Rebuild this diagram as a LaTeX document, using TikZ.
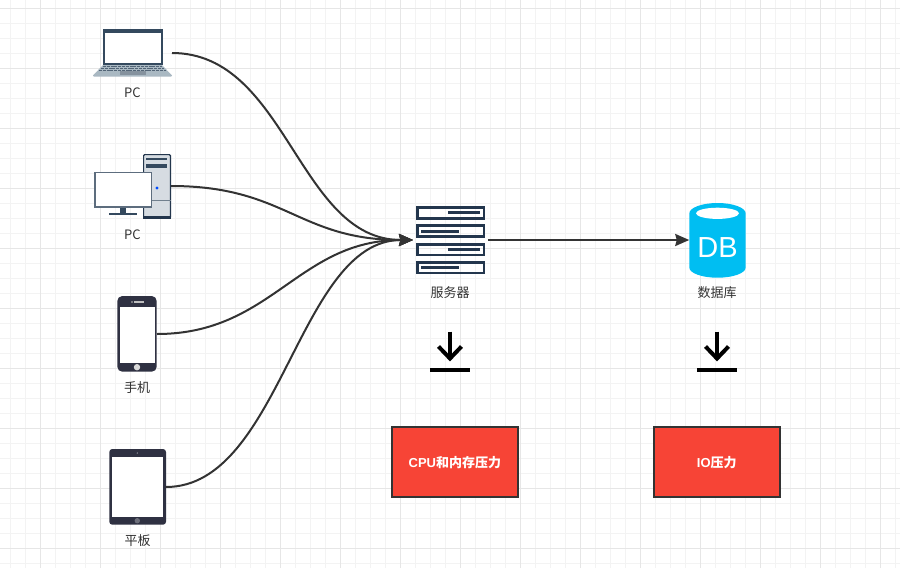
\documentclass[tikz,border=0pt]{standalone}
\usepackage{fontspec}
\usepackage{xcolor}
\usetikzlibrary{arrows.meta}
\setmainfont{Liberation Sans}
\newfontfamily\cjk{Noto Sans CJK SC}
\definecolor{gridminor}{HTML}{F3F3F3}
\definecolor{gridmajor}{HTML}{E6E6E6}
\definecolor{ink}{HTML}{333333}
\definecolor{navy}{HTML}{23364D}
\definecolor{slate}{HTML}{34495E}
\definecolor{steel}{HTML}{A9B8C2}
\definecolor{case}{HTML}{D6DCE2}
\definecolor{mobile}{HTML}{2F3142}
\definecolor{dbblue}{HTML}{00BEF2}
\definecolor{alarm}{HTML}{F74436}
\tikzset{
  device/.style={inner sep=0pt,outer sep=0pt},
  caption/.style={inner sep=0pt,text=ink,font=\fontsize{13}{15}\selectfont\cjk},
  flow/.style={draw=ink,line width=2pt,-{Stealth[length=14pt,width=12pt,inset=1.5pt]}},
  alarmbox/.style={draw=ink,line width=2pt,fill=alarm,text=white,minimum width=126.5pt,minimum height=70.6pt,inner sep=0pt,font=\fontsize{13}{15}\selectfont\bfseries},
  slot/.style={fill=navy,draw=none},
  drop/.style={line width=4pt,draw=black}
}
\begin{document}
\begin{tikzpicture}[x=1pt,y=-1pt]
  \useasboundingbox (0,0) rectangle (900,568);
  \fill[white] (0,0) rectangle (900,568);
  \foreach \gx in {0,...,59} \draw[gridminor,line width=1pt] (10.5+15*\gx,0) -- (10.5+15*\gx,568);
  \foreach \gy in {0,...,37} \draw[gridminor,line width=1pt] (0,8.5+15*\gy) -- (900,8.5+15*\gy);
  \foreach \gx in {0,...,14} \draw[gridmajor,line width=1pt] (40.5+60*\gx,0) -- (40.5+60*\gx,568);
  \foreach \gy in {0,...,9} \draw[gridmajor,line width=1pt] (0,8.5+60*\gy) -- (900,8.5+60*\gy);

  \node[device,minimum width=79pt,minimum height=48pt] (laptop) at (132.5,53) {};
  \node[device,minimum width=77pt,minimum height=64pt] (desktop) at (132.5,186) {};
  \node[device,minimum width=40pt,minimum height=76pt] (phone) at (137,334) {};
  \node[device,minimum width=57pt,minimum height=76pt] (tablet) at (137.5,487) {};
  \node[device,minimum width=75pt,minimum height=68pt] (server) at (450.5,240) {};
  \node[device,minimum width=56.5pt,minimum height=75pt] (database) at (717.5,240) {};

  % laptop
  \path[fill=steel] (103,65) -- (162,65) -- (172,75.5) -- (171,76.7) -- (94,76.7) -- (93,75.5) -- cycle;
  \path[fill=slate] (102.7,29) rectangle (162.7,65);
  \path[fill=white] (104.5,32.5) rectangle (161,63);
  \foreach \ky in {66.5,68.5,70.5} \draw[slate!85,line width=1.5pt,dash pattern=on 3pt off .8pt] (103-\ky+66.5,\ky) -- (162+\ky-66.5,\ky);
  \path[fill=slate!60] (120,71) rectangle (146,75);

  % desktop
  \path[fill=case,draw=navy,line width=1.2pt,rounded corners=1pt] (143.6,154.6) rectangle (170.4,218);
  \path[fill=navy] (143,216) rectangle (171,218.8);
  \path[fill=slate] (146,158) rectangle (167,160);
  \path[fill=slate] (146,164) rectangle (167,168);
  \draw[slate!70,line width=.8pt] (143.5,200.5) -- (170.5,200.5);
  \path[fill=blue!70!cyan] (157,188) circle (1.7);
  \path[fill=slate] (120,207) rectangle (126,212.5);
  \path[fill=slate] (109,212.5) rectangle (137,214.5);
  \path[fill=white,draw=slate!80,line width=1.4pt] (94.9,172.2) rectangle (151.2,207);

  % phone
  \path[fill=mobile,rounded corners=5pt] (117.3,296) rectangle (156.7,371.7);
  \path[fill=white] (119.8,306.7) rectangle (154.6,362.7);
  \path[fill=gray!50] (134,301.3) rectangle (143.5,302.7);
  \path[fill=gray!50] (132,302) circle (.9);
  \path[fill=gray!30] (137,367.2) circle (3.2);

  % tablet
  \path[fill=mobile,rounded corners=3pt] (109.3,449) rectangle (166,524.7);
  \path[fill=white] (112,456.7) rectangle (163,516.7);
  \path[fill=mobile!70] (137.3,520.7) circle (2.7);
  \path[fill=mobile!60] (137.3,453) circle (.8);

  % server
  \foreach \sy in {207.4,225.7,244.1,262.1} \draw[navy,line width=2.8pt] (417.1,\sy) rectangle (483.9,\sy+10.9);
  \path[slot] (447.7,211.3) rectangle (480,214.3);
  \path[slot] (421,229.6) rectangle (459,232.6);
  \path[slot] (447.7,248) rectangle (480,251);
  \path[slot] (421,266) rectangle (459,269);

  % database
  \path[fill=dbblue] (689.3,213.5) arc[start angle=180,end angle=360,x radius=28.2,y radius=10.5] -- (745.7,267.5) arc[start angle=0,end angle=180,x radius=28.2,y radius=10.2] -- cycle;
  \path[fill=white] (717.5,213.3) ellipse (21.5 and 5.6);

  \node[inner sep=0pt,text=white,font=\fontsize{29}{30}\selectfont] (dbmark) at (717.5,248) {DB};

  \node[caption] (laptoplabel) at (132.5,92.7) {PC};
  \node[caption] (desktoplabel) at (132.5,234.7) {PC};
  \node[caption] (phonelabel) at (137,387.5) {手机};
  \node[caption] (tabletlabel) at (137.5,540.5) {平板};
  \node[caption] (serverlabel) at (450,293) {服务器};
  \node[caption] (databaselabel) at (717,293) {数据库};

  \draw[flow] (laptop.east) .. controls +(115,0) and +(-115,0) .. (server.west);
  \draw[flow] (desktop.east) .. controls +(115,0) and +(-115,0) .. (server.west);
  \draw[flow] (phone.east) .. controls +(115,0) and +(-115,0) .. (server.west);
  \draw[flow] (tablet.east) .. controls +(115,0) and +(-115,0) .. (server.west);
  \draw[flow] (server.east) -- (database.west);

  \draw[drop] (450,331.7) -- (450,358);
  \draw[drop,line join=miter] (438.5,346.5) -- (450,358.5) -- (461.5,346.5);
  \draw[drop] (430,369.7) -- (470,369.7);
  \draw[drop] (717,331.7) -- (717,358);
  \draw[drop,line join=miter] (705.5,346.5) -- (717,358.5) -- (728.5,346.5);
  \draw[drop] (697,369.7) -- (737,369.7);

  \node[alarmbox] (cpuload) at (454.85,461.85) {\raisebox{-5.6pt}[0pt][0pt]{CPU{\cjk 和内存压力}}};
  \node[alarmbox] (ioload) at (716.85,461.85) {\raisebox{-5.6pt}[0pt][0pt]{IO{\cjk 压力}}};
\end{tikzpicture}
\end{document}
